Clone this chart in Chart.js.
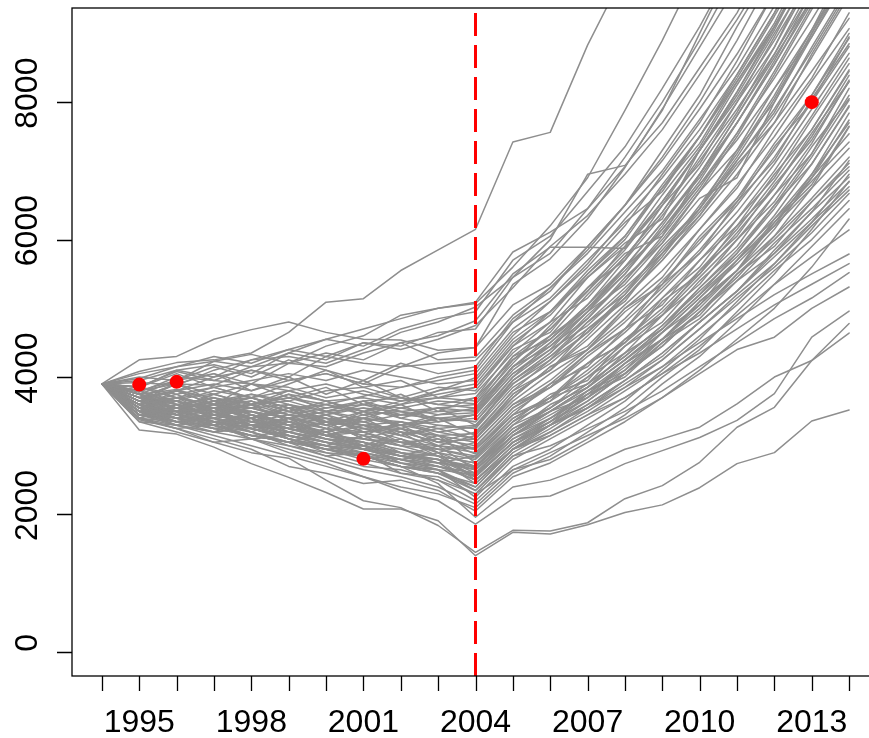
<!DOCTYPE html>
<html>
<head>
<meta charset="utf-8">
<script src="https://cdn.jsdelivr.net/npm/chart.js@4.4.1/dist/chart.umd.min.js"></script>
<style>
  html, body { margin: 0; padding: 0; background: #fff; overflow: hidden; }
  #wrap { width: 890px; height: 738px; }
</style>
</head>
<body>
<div id="wrap"><canvas id="chart" width="890" height="738"></canvas></div>
<script>
'use strict';

// ---- data ----
const years = [1994, 1995, 1996, 1997, 1998, 1999, 2000, 2001, 2002, 2003, 2004,
               2005, 2006, 2007, 2008, 2009, 2010, 2011, 2012, 2013, 2014];
const splitYear = 2004;
const markerYears = [1995, 1996, 2001, 2013];
const markerValues = [3890, 3930, 2810, 8000];
const yTicks = [0, 2000, 4000, 6000, 8000];
const xLabelYears = [1995, 1998, 2001, 2004, 2007, 2010, 2013];

// paths that leave the top early
const pathsHigh = [
  [3900, 4080, 4210, 4250, 4350, 4650, 5090, 5140, 5550, 5850, 6150, 7420, 7560, 8830, 9900, 11200, 12500, 13900, 15400, 17000, 18700],
  [3900, 4250, 4300, 4550, 4690, 4800, 4650, 4550, 4540, 4390, 4430, 5350, 5720, 6300, 7050, 7900, 8800, 9700, 10700, 11800, 13000],
  [3900, 3980, 4150, 4230, 4330, 4200, 4450, 4600, 4900, 5000, 5090, 5820, 6110, 6450, 7060, 7880, 9000, 10100, 11200, 12400, 13600],
  [3900, 3850, 4100, 4180, 4050, 4350, 4550, 4700, 4850, 5000, 5070, 5600, 6200, 6900, 7880, 8900, 10000, 11100, 12300, 13500, 14800],
  [3900, 3920, 3880, 4100, 4250, 4300, 4200, 4400, 4650, 4800, 5020, 5450, 6000, 6950, 7080, 7700, 8500, 9300, 10300, 11300, 12400],
  [3900, 3780, 4000, 3950, 4150, 4200, 4350, 4250, 4500, 4600, 4820, 5500, 5890, 5890, 5870, 6500, 7300, 8100, 9000, 9900, 10900],
  [3900, 4000, 3950, 4230, 4150, 4350, 4250, 4500, 4400, 4550, 4750, 5300, 5900, 6350, 6950, 7600, 8400, 9200, 10100, 11100, 12200],
  [3900, 3700, 3900, 3880, 4100, 4000, 4300, 4200, 4150, 4350, 4430, 5050, 5350, 5900, 6500, 7150, 7900, 8700, 9600, 10500, 11500],
  [3900, 3860, 4080, 3950, 3900, 4200, 4150, 4350, 4500, 4250, 4290, 4900, 5300, 5800, 6400, 7000, 7750, 8500, 9400, 10300, 11300],
  [3900, 3650, 3800, 4000, 4100, 3950, 4050, 3900, 4150, 4200, 4240, 4800, 5150, 5700, 6250, 6700, 7500, 8300, 9100, 10000, 11000],
  [3900, 4050, 4150, 4300, 4200, 4400, 4550, 4450, 4700, 4850, 4950, 5700, 6050, 6700, 7350, 8200, 9100, 10100, 11200, 12400, 13700],
  [3900, 3950, 4100, 4000, 4250, 4400, 4300, 4500, 4450, 4650, 4700, 5450, 5800, 6450, 7200, 8000, 8900, 9900, 11000, 12100, 13400]
];

// paths that leave the top late
const pathsUpper = [
  [3900, 3750, 3820, 3650, 3700, 3550, 3600, 3720, 3850, 3950, 4050, 4700, 5100, 5650, 6300, 6900, 7600, 8400, 9300, 10300, 11300],
  [3900, 3850, 3700, 3750, 3900, 3800, 3650, 3700, 3600, 3800, 3990, 4650, 4950, 5450, 5950, 6300, 7300, 8050, 8900, 9800, 10800],
  [3900, 3600, 3700, 3850, 3700, 3800, 3900, 3750, 3650, 3700, 3760, 4350, 4800, 5150, 5750, 6400, 7150, 7900, 8700, 9600, 10600],
  [3900, 3700, 3550, 3650, 3750, 3600, 3500, 3650, 3700, 3600, 3700, 4250, 4700, 5250, 5800, 6050, 6950, 7800, 8650, 9500, 10400],
  [3900, 3800, 3900, 3750, 3600, 3650, 3500, 3400, 3550, 3650, 3610, 4300, 4550, 5000, 5550, 6150, 6800, 7550, 8350, 9200, 10100],
  [3900, 3550, 3650, 3500, 3600, 3700, 3550, 3600, 3450, 3500, 3520, 4150, 4600, 5000, 5600, 6100, 6800, 7450, 8200, 9050, 9950],
  [3900, 3650, 3500, 3550, 3400, 3500, 3600, 3450, 3500, 3400, 3450, 4050, 4400, 4950, 5350, 5950, 6600, 6900, 8000, 8950, 9850],
  [3900, 3750, 3600, 3700, 3550, 3450, 3550, 3650, 3500, 3350, 3400, 4000, 4400, 4750, 5250, 5850, 6450, 7150, 7900, 8750, 9650],
  [3900, 3500, 3600, 3550, 3650, 3500, 3400, 3350, 3450, 3400, 3350, 3950, 4300, 4800, 5300, 5800, 6400, 7100, 7700, 8700, 9600],
  [3900, 3700, 3650, 3500, 3550, 3600, 3450, 3300, 3350, 3250, 3300, 3900, 4300, 4700, 5150, 5700, 6350, 7050, 7800, 8650, 9550],
  [3900, 3600, 3450, 3550, 3500, 3400, 3500, 3550, 3400, 3300, 3250, 3950, 4350, 4900, 5400, 6050, 6750, 7550, 8450, 9400, 10500],
  [3900, 3850, 3700, 3600, 3650, 3500, 3350, 3400, 3300, 3350, 3450, 4150, 4550, 5050, 5700, 6350, 7050, 7850, 8800, 9800, 10900],
  [3900, 3550, 3400, 3450, 3350, 3450, 3400, 3300, 3250, 3150, 3180, 3800, 4250, 4650, 5200, 5800, 6500, 7250, 8100, 9050, 10100],
  [3900, 3650, 3700, 3600, 3450, 3350, 3450, 3550, 3500, 3550, 3600, 4200, 4750, 5300, 5850, 6550, 7300, 8150, 9100, 10100, 11200],
  [3900, 3450, 3500, 3400, 3300, 3350, 3250, 3200, 3300, 3200, 3100, 3750, 4100, 4600, 5150, 5750, 6450, 7200, 8050, 9000, 10000],
  [3900, 3800, 3950, 4050, 3900, 3850, 3700, 3800, 3650, 3750, 3850, 4450, 4950, 5500, 6050, 6750, 7500, 8350, 9250, 10200, 11300],
  [3900, 3700, 3800, 3900, 3800, 3950, 4050, 3900, 3850, 4000, 4100, 4800, 5300, 5850, 6500, 7200, 8000, 8900, 9900, 11000, 12200],
  [3900, 3600, 3700, 3600, 3750, 3650, 3800, 3850, 3700, 3600, 3550, 4250, 4600, 5200, 5750, 6400, 7200, 8000, 8950, 9950, 11000],
  [3900, 3750, 3650, 3800, 3700, 3550, 3450, 3600, 3550, 3450, 3480, 4100, 4500, 4950, 5500, 6150, 6850, 7700, 8550, 9500, 10500],
  [3900, 3800, 3650, 3550, 3600, 3750, 3650, 3500, 3600, 3700, 3650, 4300, 4700, 5250, 5900, 6550, 7300, 8150, 9050, 10100, 11100],
  [3900, 3550, 3450, 3600, 3500, 3400, 3300, 3400, 3350, 3200, 3280, 3950, 4350, 4850, 5400, 6000, 6700, 7500, 8400, 9350, 10400],
  [3900, 3650, 3550, 3450, 3500, 3400, 3350, 3250, 3300, 3400, 3350, 4000, 4500, 5000, 5500, 6200, 6950, 7700, 8600, 9600, 10700],
  [3900, 3700, 3800, 3700, 3600, 3700, 3600, 3500, 3450, 3550, 3500, 4150, 4450, 4950, 5600, 6250, 6950, 7800, 8700, 9700, 10700],
  [3900, 3850, 3750, 3850, 3950, 4050, 3950, 4100, 4000, 3900, 3950, 4600, 5100, 5600, 6200, 6950, 7700, 8600, 9600, 10700, 11800]
];

// paths ending between 7600 and 9300
const pathsMiddle = [
  [3900, 3600, 3500, 3650, 3450, 3300, 3400, 3250, 3150, 3300, 3250, 3850, 4200, 4650, 5150, 5700, 6300, 6950, 7700, 8450, 9220],
  [3900, 3500, 3350, 3450, 3400, 3250, 3350, 3100, 3050, 3000, 3150, 3750, 4100, 4550, 5050, 5550, 6150, 6800, 7500, 8300, 9070],
  [3900, 3700, 3800, 3600, 3550, 3400, 3300, 3350, 3200, 3050, 3100, 3700, 4150, 4400, 5000, 5350, 6050, 6600, 7400, 8100, 9000],
  [3900, 3550, 3650, 3500, 3600, 3450, 3350, 3300, 3200, 3150, 3050, 3600, 3950, 4400, 4850, 5400, 5950, 6600, 7300, 8100, 8930],
  [3900, 3750, 3550, 3600, 3700, 3550, 3400, 3200, 3250, 3100, 3000, 3550, 3900, 4350, 4800, 5300, 5850, 6500, 7200, 8000, 8810],
  [3900, 3450, 3400, 3550, 3400, 3250, 3150, 3200, 3050, 2950, 2980, 3550, 3850, 4300, 4700, 5250, 5800, 6400, 7100, 7900, 8710],
  [3900, 3650, 3550, 3450, 3550, 3400, 3500, 3350, 3200, 3050, 2950, 3500, 3850, 4200, 4650, 5150, 5700, 6300, 7000, 7800, 8640],
  [3900, 3600, 3450, 3500, 3350, 3300, 3200, 3300, 3150, 3000, 2900, 3450, 3650, 4200, 4500, 5150, 5600, 6300, 6900, 7750, 8560],
  [3900, 3500, 3550, 3450, 3300, 3400, 3250, 3150, 3050, 3100, 2880, 3400, 3700, 4100, 4550, 5000, 5550, 6150, 6850, 7600, 8470],
  [3900, 3700, 3600, 3450, 3500, 3300, 3150, 3250, 3100, 2950, 2850, 3400, 3700, 4050, 4500, 4950, 5500, 6100, 6750, 7500, 8390],
  [3900, 3550, 3400, 3350, 3450, 3300, 3150, 3100, 3000, 2950, 2820, 3350, 3650, 4000, 4450, 4900, 5450, 6000, 6650, 7400, 8320],
  [3900, 3400, 3350, 3250, 3150, 3200, 3100, 3000, 3100, 2900, 2800, 3300, 3700, 3900, 4450, 4800, 5400, 5900, 6650, 7250, 8200],
  [3900, 3600, 3500, 3400, 3300, 3350, 3150, 3000, 2900, 2850, 2750, 3300, 3550, 3900, 4300, 4750, 5300, 5850, 6500, 7250, 8100],
  [3900, 3650, 3500, 3550, 3400, 3250, 3100, 3050, 2900, 2800, 2700, 3250, 3500, 3850, 4250, 4700, 5200, 5800, 6450, 7200, 8030],
  [3900, 3500, 3450, 3300, 3350, 3200, 3050, 2950, 2850, 2800, 2680, 3200, 3500, 3800, 4200, 4650, 5150, 5700, 6350, 7100, 7930],
  [3900, 3550, 3350, 3400, 3250, 3100, 2950, 2900, 2800, 2750, 2650, 3150, 3500, 3700, 4200, 4550, 5100, 5550, 6300, 6950, 7840],
  [3900, 3450, 3300, 3200, 3250, 3100, 2950, 2850, 2750, 2700, 2600, 3100, 3400, 3700, 4100, 4550, 5000, 5550, 6150, 6900, 7740],
  [3900, 3600, 3400, 3300, 3150, 3050, 2950, 2850, 2700, 2650, 2580, 3050, 3350, 3650, 4050, 4450, 4950, 5450, 6050, 6750, 7640]
];

// paths ending below 7600
const pathsLower = [
  [3900, 3230, 3170, 2980, 2740, 2540, 2320, 2080, 2080, 1910, 1400, 1740, 1715, 1850, 2030, 2140, 2390, 2740, 2900, 3360, 3520],
  [3900, 3380, 3250, 3050, 2900, 2820, 2500, 2200, 2100, 1840, 1450, 1770, 1760, 1880, 2230, 2420, 2760, 3270, 3560, 4240, 4640],
  [3900, 3400, 3300, 3150, 3000, 2850, 2700, 2550, 2350, 2200, 1860, 2230, 2270, 2490, 2740, 2930, 3120, 3370, 3760, 4580, 4960],
  [3900, 3500, 3400, 3350, 3200, 3050, 2950, 2800, 2700, 2450, 1960, 2400, 2500, 2700, 2950, 3100, 3270, 3610, 4000, 4240, 4780],
  [3900, 3450, 3350, 3250, 3300, 3100, 2900, 2750, 2600, 2500, 2300, 2650, 2900, 3150, 3400, 3700, 4050, 4400, 4580, 5000, 5310],
  [3900, 3550, 3450, 3300, 3100, 3150, 3000, 2850, 2700, 2650, 2350, 2850, 3000, 3250, 3500, 3800, 4150, 4500, 4850, 5150, 5520],
  [3900, 3600, 3500, 3400, 3450, 3300, 3200, 3050, 2900, 2800, 2450, 2950, 3150, 3450, 3700, 4050, 4350, 4700, 5050, 5350, 5650],
  [3900, 3650, 3550, 3500, 3300, 3250, 3150, 3100, 3000, 2850, 2550, 3050, 3300, 3550, 3850, 4150, 4500, 4850, 5200, 5500, 5790],
  [3900, 3500, 3350, 3400, 3250, 3100, 3000, 2900, 2750, 2650, 2250, 2800, 3100, 3400, 3700, 4050, 4450, 4900, 5350, 5750, 6140],
  [3900, 3400, 3250, 3300, 3150, 3050, 2850, 2900, 2600, 2550, 2300, 2850, 3150, 3450, 3800, 4150, 4600, 5050, 5550, 6000, 6570],
  [3900, 3550, 3400, 3250, 3150, 3050, 3000, 2850, 2700, 2600, 2400, 2950, 3200, 3550, 3900, 4250, 4700, 5150, 5600, 6100, 6670],
  [3900, 3450, 3500, 3350, 3400, 3100, 2950, 3000, 2750, 2600, 2350, 2900, 3200, 3500, 3850, 4250, 4700, 5200, 5650, 6200, 6720],
  [3900, 3600, 3450, 3350, 3250, 3150, 3050, 2950, 2850, 2700, 2500, 3000, 3300, 3600, 3950, 4350, 4800, 5250, 5750, 6250, 6770],
  [3900, 3350, 3300, 3200, 3100, 3000, 2900, 2850, 2700, 2600, 2450, 2950, 3250, 3600, 3950, 4350, 4800, 5250, 5800, 6300, 6840],
  [3900, 3500, 3400, 3250, 3300, 3150, 3050, 2900, 2800, 2700, 2550, 3050, 3300, 3750, 4000, 4500, 4850, 5400, 5800, 6400, 6910],
  [3900, 3650, 3500, 3400, 3300, 3200, 3050, 2950, 2850, 2750, 2500, 3000, 3350, 3700, 4050, 4450, 4950, 5400, 5950, 6450, 7010],
  [3900, 3450, 3350, 3300, 3150, 3050, 2950, 2850, 2800, 2700, 2600, 3100, 3350, 3800, 4050, 4550, 4900, 5500, 5900, 6550, 7060],
  [3900, 3550, 3450, 3350, 3250, 3100, 3000, 2950, 2800, 2650, 2400, 2950, 3300, 3650, 4050, 4500, 4950, 5500, 6000, 6550, 7110],
  [3900, 3600, 3500, 3550, 3300, 3250, 3100, 3050, 2850, 2800, 2550, 3050, 3400, 3750, 4150, 4550, 5050, 5550, 6050, 6600, 7200],
  [3900, 3500, 3450, 3350, 3250, 3150, 3050, 3000, 2850, 2800, 2650, 3150, 3500, 3850, 4250, 4650, 5150, 5650, 6200, 6750, 7330],
  [3900, 3450, 3350, 3400, 3300, 3200, 3100, 2950, 2900, 2750, 2700, 3200, 3550, 3900, 4300, 4750, 5250, 5750, 6300, 6850, 7420],
  [3900, 3650, 3550, 3450, 3350, 3250, 3150, 3050, 2950, 2850, 2600, 3150, 3500, 3850, 4250, 4700, 5200, 5700, 6250, 6900, 7540],
  [3900, 3400, 3250, 3100, 2950, 2700, 2600, 2450, 2500, 2350, 2050, 2550, 2750, 3050, 3350, 3700, 4100, 4550, 5000, 5600, 6300],
  [3900, 3500, 3300, 3350, 3100, 2950, 2800, 2650, 2550, 2400, 2150, 2650, 2800, 3100, 3450, 3900, 4300, 4800, 5350, 5900, 6450],
  [3900, 3350, 3200, 3050, 3100, 2900, 2750, 2550, 2400, 2300, 2100, 2600, 2850, 3200, 3550, 4000, 4400, 4950, 5500, 6150, 6850],
  [3900, 3600, 3450, 3300, 3200, 3000, 2850, 2700, 2650, 2500, 2200, 2700, 2950, 3300, 3650, 4100, 4550, 5100, 5650, 6250, 6950]
];

// zig-zagging paths across the whole band
const pathsMixed = [
  [3900, 3550, 3800, 3600, 3900, 3700, 3850, 3600, 3750, 3500, 3700, 4400, 4650, 5300, 5700, 6500, 7100, 8000, 8800, 9900, 10900],
  [3900, 3700, 3450, 3650, 3400, 3600, 3350, 3500, 3250, 3400, 3150, 3700, 4150, 4450, 5000, 5450, 6150, 6750, 7600, 8350, 9300],
  [3900, 3400, 3600, 3300, 3450, 3200, 3350, 3100, 3250, 3000, 2950, 3450, 3900, 4150, 4700, 5050, 5700, 6200, 6950, 7600, 8450],
  [3900, 3650, 3900, 4050, 3800, 4000, 3750, 3950, 3700, 3850, 3800, 4450, 4800, 5450, 5900, 6650, 7350, 8250, 9100, 10100, 11200],
  [3900, 3800, 3600, 3400, 3650, 3450, 3250, 3500, 3300, 3050, 3200, 3800, 4100, 4700, 5100, 5800, 6350, 7150, 7850, 8800, 9700],
  [3900, 3500, 3300, 3500, 3250, 3400, 3150, 3300, 3050, 2900, 3050, 3600, 3850, 4350, 4700, 5350, 5800, 6550, 7150, 8050, 8850],
  [3900, 3600, 3750, 3500, 3350, 3550, 3300, 3150, 3350, 3150, 2750, 3200, 3600, 3850, 4350, 4700, 5300, 5800, 6500, 7100, 7950],
  [3900, 3750, 3500, 3700, 3450, 3250, 3450, 3200, 3000, 3150, 2950, 3450, 3700, 4200, 4500, 5100, 5500, 6200, 6750, 7550, 8300],
  [3900, 3450, 3650, 3400, 3200, 3400, 3150, 3000, 3200, 2900, 2700, 3150, 3450, 3750, 4200, 4550, 5100, 5550, 6250, 6800, 7650],
  [3900, 3550, 3350, 3200, 3400, 3150, 3000, 3150, 2900, 2750, 2850, 3350, 3750, 3950, 4550, 4900, 5550, 6050, 6800, 7450, 8300],
  [3900, 3700, 3900, 3650, 3550, 3750, 3500, 3650, 3400, 3550, 3300, 3900, 4250, 4800, 5200, 5900, 6450, 7300, 8000, 9000, 9900],
  [3900, 3850, 4050, 3850, 3700, 3900, 4100, 3850, 3950, 3700, 3850, 4500, 4900, 5500, 6000, 6750, 7400, 8300, 9150, 10200, 11300],
  [3900, 3600, 3400, 3550, 3300, 3100, 3250, 3000, 2850, 3000, 2650, 3150, 3400, 3800, 4100, 4650, 5050, 5700, 6200, 6950, 7700],
  [3900, 3500, 3700, 3450, 3600, 3350, 3200, 3400, 3150, 3250, 3100, 3650, 4050, 4400, 4950, 5350, 6000, 6550, 7350, 8000, 8950],
  [3900, 3650, 3450, 3300, 3500, 3300, 3100, 2950, 3100, 2850, 2750, 3250, 3550, 4000, 4350, 4900, 5350, 6000, 6550, 7350, 8050],
  [3900, 3750, 3950, 4150, 4000, 4250, 4100, 3950, 4200, 4050, 4150, 4850, 5250, 5900, 6500, 7300, 8100, 9100, 10000, 11200, 12400],
  [3900, 3550, 3700, 3550, 3700, 3500, 3650, 3450, 3600, 3350, 3450, 4050, 4450, 4850, 5450, 5950, 6700, 7300, 8200, 8950, 9900],
  [3900, 3400, 3550, 3350, 3200, 3050, 3200, 2950, 2800, 2900, 2500, 2950, 3300, 3550, 3950, 4300, 4800, 5250, 5850, 6400, 7150],
  [3900, 3600, 3450, 3600, 3400, 3550, 3300, 3450, 3300, 3450, 3550, 4150, 4550, 5050, 5600, 6250, 6900, 7700, 8550, 9450, 10400],
  [3900, 3700, 3550, 3750, 3600, 3800, 3650, 3500, 3650, 3800, 3900, 4550, 4950, 5550, 6050, 6800, 7500, 8400, 9300, 10300, 11400]
];

// ---- chart ----
const allPaths = [].concat(pathsHigh, pathsUpper, pathsMiddle, pathsLower, pathsMixed);
const yMin = -350, yMax = 9370;

const pathSets = allPaths.map(run => ({
  data: run.map((v, i) => ({ x: years[i], y: v })),
  borderColor: '#8e8e8e',
  borderWidth: 1.5,
  borderJoinStyle: 'round',
  borderCapStyle: 'round',
  pointRadius: 0,
  tension: 0,
  fill: false
}));

const splitSet = {
  data: [{ x: splitYear, y: yMin }, { x: splitYear, y: yMax }],
  borderColor: '#ff0000',
  borderWidth: 3,
  borderDash: [23, 9],
  pointRadius: 0,
  order: -1
};

const markerSet = {
  type: 'scatter',
  data: markerYears.map((yr, i) => ({ x: yr, y: markerValues[i] })),
  backgroundColor: '#ff0000',
  borderWidth: 0,
  pointRadius: 7,
  order: -2
};

// box, ticks and labels in the base-graphics style
const frame = {
  id: 'frame',
  afterDraw(chart) {
    const { ctx, chartArea: a, scales: { x, y } } = chart;
    ctx.save();
    ctx.strokeStyle = '#000';
    ctx.lineWidth = 1.3;
    ctx.strokeRect(a.left, a.top, a.right - a.left, a.bottom - a.top);

    ctx.beginPath();
    years.forEach(yr => {
      const px = Math.round(x.getPixelForValue(yr)) + 0.5;
      ctx.moveTo(px, a.bottom);
      ctx.lineTo(px, a.bottom + 15);
    });
    yTicks.forEach(v => {
      const py = Math.round(y.getPixelForValue(v)) + 0.5;
      ctx.moveTo(a.left - 15, py);
      ctx.lineTo(a.left, py);
    });
    ctx.stroke();

    ctx.fillStyle = '#000';
    ctx.font = '32px "Liberation Sans", Arial, sans-serif';
    ctx.textAlign = 'center';
    ctx.textBaseline = 'alphabetic';
    xLabelYears.forEach(yr => {
      ctx.fillText(String(yr), x.getPixelForValue(yr), a.bottom + 56);
    });
    yTicks.forEach(v => {
      ctx.save();
      ctx.translate(a.left - 35, y.getPixelForValue(v) - 9);
      ctx.rotate(-Math.PI / 2);
      ctx.fillText(String(v), 0, 0);
      ctx.restore();
    });
    ctx.restore();
  }
};

new Chart(document.getElementById('chart'), {
  type: 'line',
  data: { datasets: pathSets.concat([splitSet, markerSet]) },
  options: {
    responsive: false,
    animation: false,
    layout: { padding: { left: 72, top: 8, right: 11, bottom: 62 } },
    scales: {
      x: { type: 'linear', min: 1993.2, max: 2014.8, display: false },
      y: { type: 'linear', min: yMin, max: yMax, display: false }
    },
    plugins: {
      legend: { display: false },
      tooltip: { enabled: false }
    }
  },
  plugins: [frame]
});
</script>
</body>
</html>
